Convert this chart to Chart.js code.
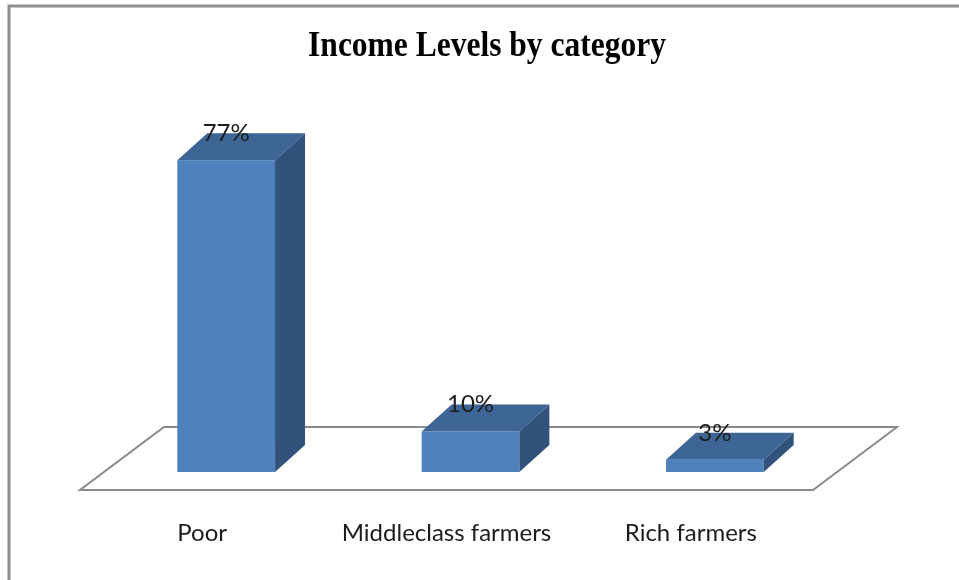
<!DOCTYPE html>
<html>
<head>
<meta charset="utf-8">
<script src="https://cdn.jsdelivr.net/npm/chart.js@4.4.0/dist/chart.umd.min.js"></script>
<style>
  html, body { margin: 0; padding: 0; background: #fff; }
  #wrap { width: 959px; height: 580px; }
</style>
</head>
<body>
<div id="wrap"><canvas id="incomeChart" width="959" height="580"></canvas></div>
<script>
// --- Data ---
const chartTitle = 'Income Levels by category';
const categories = ['Poor', 'Middleclass farmers', 'Rich farmers'];
const shares = [77, 10, 3];
const shareLabels = ['77%', '10%', '3%'];

// --- Look ---
const FRONT = '#4f81bd';
const TOP = '#3d6696';
const SIDE = '#31537b';
const DEPTH_X = 30, DEPTH_Y = 27;     // bar depth offset
const FLOOR_FRONT = 18, FLOOR_BACK = 45, FLOOR_SHIFT = 84;
const LABEL_FONT = '24px Lato, "Open Sans", sans-serif';

// draws the Excel style 3D look around the plain bars
const bar3d = {
    id: 'bar3d',
    beforeDraw(chart) {
        const ctx = chart.ctx;
        ctx.save();
        ctx.strokeStyle = '#8e8e8e';
        ctx.lineWidth = 3;
        ctx.beginPath();
        ctx.moveTo(9, chart.height);
        ctx.lineTo(9, 6);
        ctx.lineTo(chart.width, 6);
        ctx.stroke();
        ctx.restore();
    },
    beforeDatasetsDraw(chart) {
        const ctx = chart.ctx;
        const xs = chart.scales.x, ys = chart.scales.y;
        const base = ys.getPixelForValue(0);
        const fy = base + FLOOR_FRONT, by = base - FLOOR_BACK;
        const fl = xs.left - 24, fr = xs.right - 24;
        ctx.save();
        ctx.fillStyle = '#fff';
        ctx.strokeStyle = '#8a8a8a';
        ctx.lineWidth = 2;
        ctx.beginPath();
        ctx.moveTo(fl, fy);
        ctx.lineTo(fr, fy);
        ctx.lineTo(fr + FLOOR_SHIFT, by);
        ctx.lineTo(fl + FLOOR_SHIFT, by);
        ctx.closePath();
        ctx.fill();
        ctx.stroke();
        ctx.restore();
    },
    afterDatasetsDraw(chart) {
        const ctx = chart.ctx;
        const meta = chart.getDatasetMeta(0);
        ctx.save();
        meta.data.forEach((bar) => {
            const p = bar.getProps(['x', 'y', 'width', 'base'], true);
            const l = p.x - p.width / 2, r = p.x + p.width / 2;
            // top face
            ctx.fillStyle = TOP;
            ctx.beginPath();
            ctx.moveTo(l, p.y);
            ctx.lineTo(r, p.y);
            ctx.lineTo(r + DEPTH_X, p.y - DEPTH_Y);
            ctx.lineTo(l + DEPTH_X, p.y - DEPTH_Y);
            ctx.closePath();
            ctx.fill();
            // side face
            ctx.fillStyle = SIDE;
            ctx.beginPath();
            ctx.moveTo(r, p.y);
            ctx.lineTo(r + DEPTH_X, p.y - DEPTH_Y);
            ctx.lineTo(r + DEPTH_X, p.base - DEPTH_Y);
            ctx.lineTo(r, p.base);
            ctx.closePath();
            ctx.fill();
        });

        // value labels
        ctx.fillStyle = '#1c1c1c';
        ctx.font = LABEL_FONT;
        ctx.textAlign = 'center';
        ctx.textBaseline = 'middle';
        meta.data.forEach((bar, i) => {
            ctx.fillText(shareLabels[i], bar.x, bar.y - DEPTH_Y);
        });

        // category labels, lined up with the floor's front edge
        const base = chart.scales.y.getPixelForValue(0);
        meta.data.forEach((bar, i) => {
            ctx.fillText(categories[i], bar.x - 24, base + 61);
        });

        // title (condensed serif like the original)
        ctx.font = 'bold 35px "Liberation Serif", "Times New Roman", serif';
        ctx.fillStyle = '#000';
        ctx.translate(487, 47);
        ctx.scale(0.9, 1);
        ctx.fillText(chartTitle, 0, 0);
        ctx.restore();
    }
};

const ctx = document.getElementById('incomeChart').getContext('2d');
new Chart(ctx, {
    type: 'bar',
    data: {
        labels: categories,
        datasets: [{
            data: shares,
            backgroundColor: FRONT,
            borderWidth: 0,
            barPercentage: 0.4,
            categoryPercentage: 1
        }]
    },
    options: {
        responsive: false,
        animation: false,
        devicePixelRatio: 1,
        layout: { padding: { left: 104, right: 122, top: 148, bottom: 108 } },
        scales: {
            x: { display: false },
            y: { display: false, min: 0, max: 80 }
        },
        plugins: {
            legend: { display: false },
            tooltip: { enabled: false }
        }
    },
    plugins: [bar3d]
});
</script>
</body>
</html>
